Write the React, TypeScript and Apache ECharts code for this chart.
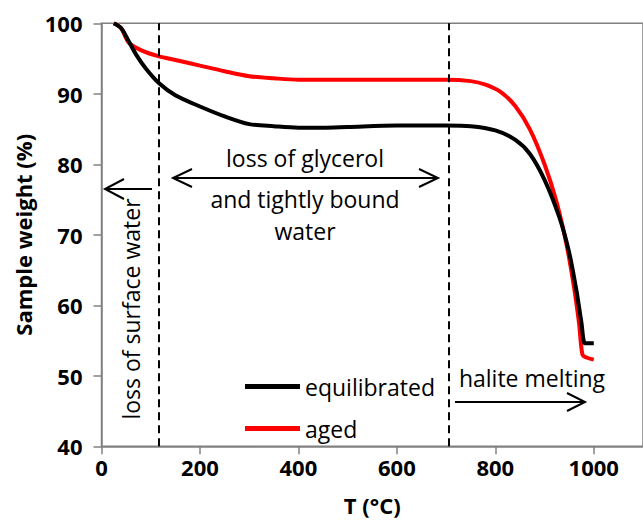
import React, { useEffect, useRef } from "react";
import * as echarts from "echarts";

const seriesNames = ["equilibrated", "aged"];

const equilibrated: [number, number][] = [
  [25, 100], [40, 99.3], [55, 97.5], [70, 95.6], [90, 93.6], [117, 91.5],
  [150, 89.8], [200, 88.2], [250, 86.8], [300, 85.7], [350, 85.4], [400, 85.2],
  [450, 85.2], [500, 85.3], [600, 85.5], [700, 85.5], [750, 85.4], [800, 84.8],
  [840, 83.5], [870, 81.5], [900, 77.8], [930, 72.5], [950, 67.5], [965, 62],
  [975, 57.5], [982, 54.6], [990, 54.6], [1000, 54.6],
];

const aged: [number, number][] = [
  [25, 100], [40, 99.3], [55, 97.3], [80, 96.2], [117, 95.3], [150, 94.8],
  [200, 94], [250, 93.2], [300, 92.5], [350, 92.2], [400, 92], [500, 92],
  [600, 92], [700, 92], [750, 91.8], [780, 91.3], [810, 90.3], [840, 88.3],
  [870, 85], [900, 80], [925, 74.5], [945, 68.5], [960, 62.5], [970, 57.5],
  [977, 53], [985, 52.6], [1000, 52.3],
];

const boundaries = [117, 705];

const xRange = { min: 0, max: 1100, interval: 200 };
const yRange = { min: 40, max: 100, interval: 10 };

const FONT = "Open Sans";

export default function App() {
  const ref = useRef<HTMLDivElement>(null);
  useEffect(() => {
    if (!ref.current) return;
    const chart = echarts.init(ref.current, null, { renderer: "svg" });
    const arrowStyle = { stroke: "#000", lineWidth: 2, fill: "none" };
    const txt = (x: number, y: number, text: string, extra: any = {}) => ({
      type: "text",
      x,
      y,
      ...extra,
      style: {
        text,
        font: `23px ${FONT}`,
        fill: "#000",
        textAlign: "center",
        textVerticalAlign: "middle",
      },
    });
    const legendText = { fontFamily: FONT, fontSize: 23, color: "#000" };
    chart.setOption({
      animation: false,
      grid: {
        left: 101.5,
        top: 23.3,
        width: 543,
        height: 423,
        show: true,
        borderColor: "#808080",
        borderWidth: 1.5,
      },
      legend: [
        {
          data: [seriesNames[0]],
          left: 240,
          top: 370,
          icon: "rect",
          itemWidth: 55,
          itemHeight: 5,
          textStyle: legendText,
        },
        {
          data: [seriesNames[1]],
          left: 240,
          top: 412,
          icon: "rect",
          itemWidth: 55,
          itemHeight: 5,
          textStyle: legendText,
        },
      ],
      xAxis: {
        type: "value",
        ...xRange,
        name: "T (°C)",
        nameLocation: "middle",
        nameGap: 48,
        nameTextStyle: { fontFamily: FONT, fontSize: 22, fontWeight: "bold", color: "#000" },
        splitLine: { show: false },
        axisLine: { lineStyle: { color: "#808080", width: 1.5 } },
        axisTick: { length: 8, lineStyle: { color: "#808080", width: 1.5 } },
        axisLabel: {
          fontFamily: FONT,
          fontSize: 22,
          fontWeight: "bold",
          color: "#000",
          margin: 10,
          showMaxLabel: false,
          formatter: (v: number) => String(v),
        },
      },
      yAxis: {
        type: "value",
        ...yRange,
        name: "Sample weight (%)",
        nameLocation: "middle",
        nameGap: 66,
        nameTextStyle: { fontFamily: FONT, fontSize: 22, fontWeight: "bold", color: "#000" },
        splitLine: { show: false },
        axisLine: { show: true, lineStyle: { color: "#808080", width: 1.5 } },
        axisTick: { show: true, length: 8, lineStyle: { color: "#808080", width: 1.5 } },
        axisLabel: {
          fontFamily: FONT,
          fontSize: 22,
          fontWeight: "bold",
          color: "#000",
          margin: 19,
        },
      },
      series: [
        {
          name: seriesNames[0],
          type: "line",
          data: equilibrated,
          showSymbol: false,
          smooth: 0.3,
          color: "#000",
          lineStyle: { width: 4, color: "#000" },
          z: 3,
          markLine: {
            silent: true,
            symbol: "none",
            label: { show: false },
            lineStyle: { color: "#000", width: 2, type: [8, 5] },
            data: boundaries.map((b) => ({ xAxis: b })),
          },
        },
        {
          name: seriesNames[1],
          type: "line",
          data: aged,
          showSymbol: false,
          smooth: 0.3,
          color: "#ff0000",
          lineStyle: { width: 4, color: "#ff0000" },
          z: 2,
        },
      ],
      graphic: [
        { type: "line", shape: { x1: 173, y1: 178, x2: 438, y2: 178 }, style: arrowStyle },
        { type: "polyline", shape: { points: [[192, 169], [173, 178], [192, 187]] }, style: arrowStyle },
        { type: "polyline", shape: { points: [[419, 169], [438, 178], [419, 187]] }, style: arrowStyle },
        { type: "line", shape: { x1: 105, y1: 189, x2: 152, y2: 189 }, style: arrowStyle },
        { type: "polyline", shape: { points: [[124, 179], [105, 189], [124, 199]] }, style: arrowStyle },
        { type: "line", shape: { x1: 455, y1: 402, x2: 585, y2: 402 }, style: arrowStyle },
        { type: "polyline", shape: { points: [[567, 393], [585, 402], [567, 411]] }, style: arrowStyle },
        txt(305, 158, "loss of glycerol"),
        txt(305, 199, "and tightly bound"),
        txt(305, 231, "water"),
        txt(532, 378, "halite melting"),
        txt(131, 309, "loss of surface water", { rotation: Math.PI / 2 }),
      ],
    });
    return () => chart.dispose();
  }, []);
  return (
    <div
      ref={ref}
      style={{ position: "absolute", left: 0, top: 0, width: 643, height: 528, overflow: "hidden", background: "#fff" }}
    />
  );
}
